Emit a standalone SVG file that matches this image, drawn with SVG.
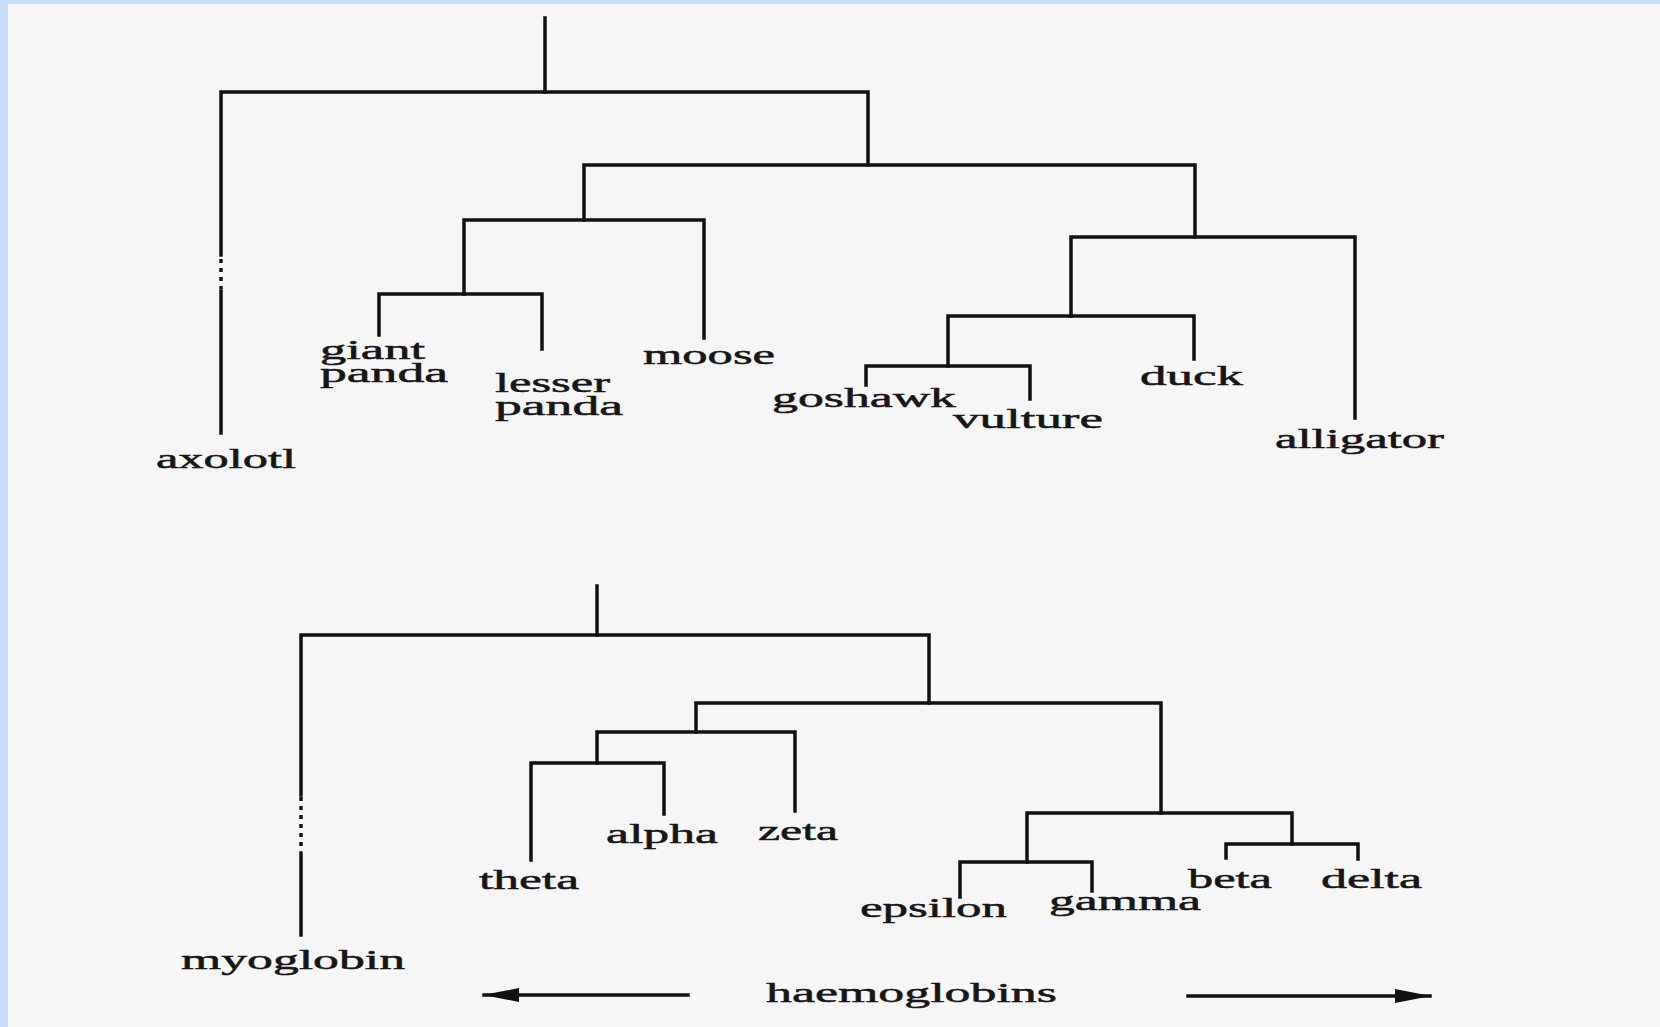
<svg xmlns="http://www.w3.org/2000/svg" width="1660" height="1027" viewBox="0 0 1660 1027">
<style>
.bg{fill:#f6f6f6}
.frame{fill:#c6dcf8}
.ln{fill:none;stroke:#111;stroke-width:3.5;stroke-linecap:square;stroke-linejoin:miter}
.dot{fill:none;stroke:#111;stroke-width:3.5;stroke-dasharray:4 5}
.lbl{font-family:"Liberation Serif","Times New Roman",serif;font-size:27px;fill:#161616;stroke:#161616;stroke-width:0.5}
.arr{fill:#111}
</style>
<defs>
<marker id="ah" viewBox="0 0 36 14" refX="35" refY="7" markerWidth="36" markerHeight="14" markerUnits="userSpaceOnUse" orient="auto-start-reverse">
<path d="M0,0 L36,7 L0,14 Z" class="arr"/>
</marker>
</defs>
<rect class="bg" x="0" y="0" width="1660" height="1027"/>
<rect class="frame" x="0" y="0" width="1660" height="4"/>
<rect class="frame" x="0" y="0" width="8" height="1027"/>

<g id="connectors">
<!-- top tree -->
<path class="ln" d="M545,18 V92"/>
<path class="ln" d="M221,255 V92 H868 V165"/>
<path class="dot" d="M221,259 V289"/>
<path class="ln" d="M221,291 V433"/>
<path class="ln" d="M584,220 V165 H1195 V237"/>
<path class="ln" d="M464,294 V220 H704 V338"/>
<path class="ln" d="M379,335 V294 H542 V349"/>
<path class="ln" d="M1071,316 V237 H1355 V418"/>
<path class="ln" d="M948,366 V316 H1194 V359"/>
<path class="ln" d="M866,385 V366 H1030 V399"/>
<!-- bottom tree -->
<path class="ln" d="M597,586 V635"/>
<path class="ln" d="M301,795 V635 H929 V703"/>
<path class="dot" d="M301,797 V850"/>
<path class="ln" d="M301,853 V935"/>
<path class="ln" d="M696,732 V703 H1161 V813"/>
<path class="ln" d="M597,763 V732 H795 V811"/>
<path class="ln" d="M531,860 V763 H664 V814"/>
<path class="ln" d="M1027,862 V813 H1292 V844"/>
<path class="ln" d="M960,897 V862 H1092 V891"/>
<path class="ln" d="M1226,858 V844 H1358 V859"/>
<!-- haemoglobins arrows -->
<path class="ln" d="M688,995 H484" marker-end="url(#ah)"/>
<path class="ln" d="M1188,996 H1430" marker-end="url(#ah)"/>
</g>

<g id="axolotl"><text class="lbl" x="156" y="468" textLength="140" lengthAdjust="spacingAndGlyphs">axolotl</text></g>
<g id="giant-panda">
<text class="lbl" x="320" y="359" textLength="105" lengthAdjust="spacingAndGlyphs">giant</text>
<text class="lbl" x="320" y="382" textLength="128" lengthAdjust="spacingAndGlyphs">panda</text>
</g>
<g id="lesser-panda">
<text class="lbl" x="495" y="392" textLength="115" lengthAdjust="spacingAndGlyphs">lesser</text>
<text class="lbl" x="495" y="415" textLength="128" lengthAdjust="spacingAndGlyphs">panda</text>
</g>
<g id="moose"><text class="lbl" x="643" y="364" textLength="132" lengthAdjust="spacingAndGlyphs">moose</text></g>
<g id="goshawk"><text class="lbl" x="772" y="407" textLength="184" lengthAdjust="spacingAndGlyphs">goshawk</text></g>
<g id="vulture"><text class="lbl" x="953" y="428" textLength="150" lengthAdjust="spacingAndGlyphs">vulture</text></g>
<g id="duck"><text class="lbl" x="1140" y="385" textLength="103" lengthAdjust="spacingAndGlyphs">duck</text></g>
<g id="alligator"><text class="lbl" x="1275" y="448" textLength="169" lengthAdjust="spacingAndGlyphs">alligator</text></g>

<g id="myoglobin"><text class="lbl" x="181" y="969" textLength="224" lengthAdjust="spacingAndGlyphs">myoglobin</text></g>
<g id="theta"><text class="lbl" x="479" y="889" textLength="100" lengthAdjust="spacingAndGlyphs">theta</text></g>
<g id="alpha"><text class="lbl" x="606" y="843" textLength="112" lengthAdjust="spacingAndGlyphs">alpha</text></g>
<g id="zeta"><text class="lbl" x="758" y="840" textLength="80" lengthAdjust="spacingAndGlyphs">zeta</text></g>
<g id="epsilon"><text class="lbl" x="860" y="917" textLength="147" lengthAdjust="spacingAndGlyphs">epsilon</text></g>
<g id="gamma"><text class="lbl" x="1049" y="910" textLength="152" lengthAdjust="spacingAndGlyphs">gamma</text></g>
<g id="beta"><text class="lbl" x="1188" y="888" textLength="84" lengthAdjust="spacingAndGlyphs">beta</text></g>
<g id="delta"><text class="lbl" x="1321" y="888" textLength="101" lengthAdjust="spacingAndGlyphs">delta</text></g>
<g id="haemoglobins"><text class="lbl" x="766" y="1002" textLength="291" lengthAdjust="spacingAndGlyphs">haemoglobins</text></g>
</svg>
